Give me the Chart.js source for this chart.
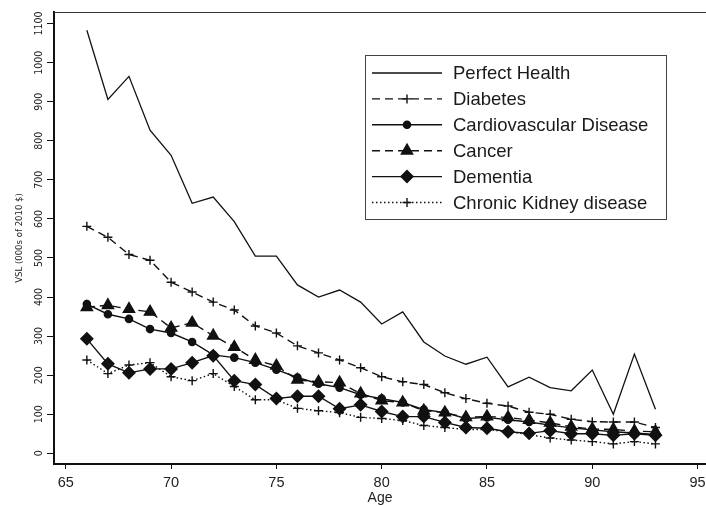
<!DOCTYPE html>
<html lang="en">
<head>
<meta charset="UTF-8">
<title>VSL by Age and Health State</title>
<script src="https://cdn.jsdelivr.net/npm/chart.js"></script>
<style>
  body { margin: 0; background: #fff; }
</style>
</head>
<body>
<canvas id="vslChart" width="706" height="506"></canvas>
<script>
// ages on the x axis
const ages = [66, 67, 68, 69, 70, 71, 72, 73, 74, 75, 76, 77, 78, 79, 80,
              81, 82, 83, 84, 85, 86, 87, 88, 89, 90, 91, 92, 93];

// VSL, 000s of 2010 $
const perfectHealth = [1083, 906, 965, 827, 763, 640, 656, 593, 505, 505, 431, 400, 418, 387, 331,
                       362, 285, 249, 228, 246, 170, 195, 168, 160, 213, 100, 254, 113];
const diabetes = [581, 553, 509, 494, 438, 413, 387, 367, 326, 308, 275, 257, 239, 219, 196,
                  183, 176, 155, 140, 128, 121, 105, 100, 87, 81, 80, 80, 66];
const cardio = [382, 356, 344, 318, 308, 285, 252, 245, 232, 214, 194, 178, 168, 150, 140,
                130, 112, 104, 89, 92, 86, 80, 72, 65, 60, 55, 52, 48];
const cancer = [374, 379, 369, 362, 321, 334, 301, 272, 239, 224, 188, 183, 181, 153, 135,
                130, 109, 104, 92, 94, 92, 85, 78, 68, 62, 61, 57, 55];
const dementia = [293, 229, 206, 216, 216, 232, 250, 186, 176, 140, 146, 146, 114, 124, 107,
                  94, 94, 79, 66, 64, 55, 51, 58, 50, 50, 46, 50, 46];
const kidney = [239, 204, 226, 232, 196, 186, 204, 171, 137, 137, 115, 109, 104, 92, 89,
                84, 71, 66, 61, 61, 55, 48, 39, 34, 30, 24, 30, 24];

const seriesNames = ['Perfect Health', 'Diabetes', 'Cardiovascular Disease',
                     'Cancer', 'Dementia', 'Chronic Kidney disease'];

// tick labels
const xTicks = [65, 70, 75, 80, 85, 90, 95];
const yTicks = [0, 100, 200, 300, 400, 500, 600, 700, 800, 900, 1000, 1100];

const ink = '#111';
const narrowFont = '"Liberation Sans Narrow", "DejaVu Sans Condensed", sans-serif';

function toPoints(values) {
    return ages.map((a, i) => ({ x: a, y: values[i] }));
}

// line style per series: dash, marker, marker radius
const styles = [
    { dash: [], marker: false, radius: 0, width: 1.3 },
    { dash: [8, 5], marker: 'cross', radius: 4.5, width: 1.4 },
    { dash: [], marker: 'circle', radius: 3.6, width: 1.4 },
    { dash: [8, 5], marker: 'triangle', radius: 6.5, width: 1.4 },
    { dash: [], marker: 'rectRot', radius: 6, width: 1.4 },
    { dash: [1.5, 2.5], marker: 'cross', radius: 4.5, width: 1.4 }
];

const allValues = [perfectHealth, diabetes, cardio, cancer, dementia, kidney];

const datasets = allValues.map((vals, i) => ({
    label: seriesNames[i],
    data: toPoints(vals),
    borderColor: ink,
    backgroundColor: ink,
    borderWidth: styles[i].width,
    borderDash: styles[i].dash,
    tension: 0,
    pointStyle: styles[i].marker || 'circle',
    pointRadius: styles[i].radius,
    pointHoverRadius: styles[i].radius,
    pointBackgroundColor: ink,
    pointBorderColor: ink,
    pointBorderWidth: 1.4
}));

// draws a legend marker the same way Chart.js draws its points
function drawMarker(ctx, style, x, y, r) {
    ctx.beginPath();
    if (style === 'cross') {
        ctx.moveTo(x - r, y); ctx.lineTo(x + r, y);
        ctx.moveTo(x, y - r); ctx.lineTo(x, y + r);
        ctx.stroke();
        return;
    }
    if (style === 'circle') {
        ctx.arc(x, y, r, 0, Math.PI * 2);
    } else if (style === 'triangle') {
        let rad = 0;
        ctx.moveTo(x + Math.sin(rad) * r, y - Math.cos(rad) * r);
        rad += Math.PI * 2 / 3;
        ctx.lineTo(x + Math.sin(rad) * r, y - Math.cos(rad) * r);
        rad += Math.PI * 2 / 3;
        ctx.lineTo(x + Math.sin(rad) * r, y - Math.cos(rad) * r);
    } else if (style === 'rectRot') {
        ctx.moveTo(x - r, y); ctx.lineTo(x, y - r);
        ctx.lineTo(x + r, y); ctx.lineTo(x, y + r);
    }
    ctx.closePath();
    ctx.fill();
    ctx.stroke();
}

// boxed legend inside the plot, plus the top frame line
const framePlugin = {
    id: 'frameAndLegend',
    afterDraw(chart) {
        const ctx = chart.ctx;
        const area = chart.chartArea;
        ctx.save();
        // top frame line
        ctx.strokeStyle = '#333';
        ctx.lineWidth = 1;
        ctx.beginPath();
        ctx.moveTo(area.left, area.top + 0.5);
        ctx.lineTo(area.right, area.top + 0.5);
        ctx.stroke();

        // legend box
        const box = { left: 365.5, top: 55.5, right: 666.5, bottom: 219.5 };
        ctx.strokeStyle = '#444';
        ctx.lineWidth = 1;
        ctx.strokeRect(box.left, box.top, box.right - box.left, box.bottom - box.top);

        const rowStart = 73, rowGap = 25.9;
        const lineFrom = 372, lineTo = 442, textX = 453;
        ctx.font = '18.5px "Liberation Sans", Arial, sans-serif';
        ctx.textBaseline = 'middle';
        ctx.textAlign = 'left';
        chart.data.datasets.forEach((ds, i) => {
            const y = rowStart + i * rowGap;
            ctx.strokeStyle = ink;
            ctx.fillStyle = ink;
            ctx.lineWidth = styles[i].width;
            ctx.setLineDash(styles[i].dash);
            ctx.beginPath();
            ctx.moveTo(lineFrom, y);
            ctx.lineTo(lineTo, y);
            ctx.stroke();
            ctx.setLineDash([]);
            if (styles[i].marker) {
                drawMarker(ctx, styles[i].marker, (lineFrom + lineTo) / 2, y, styles[i].radius);
            }
            ctx.fillStyle = '#1a1a1a';
            ctx.fillText(ds.label, textX, y + 1);
        });
        ctx.restore();
    }
};

const ctx = document.getElementById('vslChart').getContext('2d');
new Chart(ctx, {
    type: 'line',
    data: { datasets: datasets },
    options: {
        responsive: false,
        animation: false,
        events: [],
        layout: { padding: { top: 12, left: 0, right: 0, bottom: 0 }, autoPadding: false },
        plugins: {
            legend: { display: false },
            tooltip: { enabled: false }
        },
        scales: {
            x: {
                type: 'linear',
                min: 64.44,
                max: 95.4,
                afterBuildTicks: scale => { scale.ticks = xTicks.map(v => ({ value: v })); },
                afterFit: scale => { scale.height = 42; scale.paddingLeft = 0; scale.paddingRight = 0; },
                border: { display: true, color: ink, width: 2 },
                grid: { drawOnChartArea: false, drawTicks: true, tickLength: 5, color: ink, tickColor: ink, tickWidth: 1 },
                ticks: {
                    autoSkip: false,
                    maxRotation: 0,
                    padding: 5,
                    color: '#222',
                    callback: v => String(v),
                    font: { family: '"Liberation Sans", Arial, sans-serif', size: 14.5 }
                },
                title: {
                    display: true,
                    text: 'Age',
                    color: '#222',
                    font: { family: '"Liberation Sans", Arial, sans-serif', size: 14, lineHeight: 1 },
                    padding: { top: 0, bottom: 1 }
                }
            },
            y: {
                min: -27.4,
                max: 1129.7,
                afterBuildTicks: scale => { scale.ticks = yTicks.map(v => ({ value: v })); },
                afterFit: scale => { scale.width = 54; scale.paddingTop = 0; scale.paddingBottom = 0; },
                border: { display: true, color: ink, width: 2 },
                grid: { drawOnChartArea: false, drawTicks: true, tickLength: 7, color: ink, tickColor: ink, tickWidth: 1 },
                ticks: {
                    autoSkip: false,
                    minRotation: 90,
                    maxRotation: 90,
                    crossAlign: 'center',
                    padding: -4.5,
                    color: '#222',
                    callback: v => String(v),
                    font: { family: narrowFont, size: 10.5 }
                },
                title: {
                    display: true,
                    text: 'VSL (000s of 2010 $)',
                    color: '#222',
                    font: { family: narrowFont, size: 9.5, lineHeight: 1.2 },
                    padding: { top: 14.3, bottom: 0 }
                }
            }
        }
    },
    plugins: [framePlugin]
});
</script>
</body>
</html>
